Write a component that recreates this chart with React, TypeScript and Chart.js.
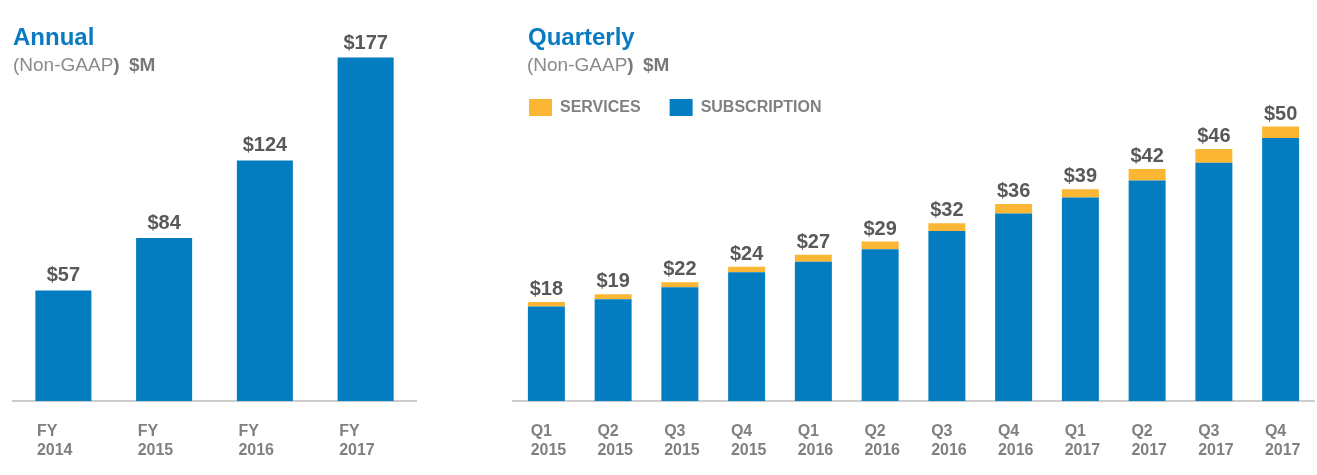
import React, { useEffect, useRef } from "react";
import { Chart, registerables } from "chart.js";

Chart.register(...registerables);

const FONT = '"Liberation Sans", Arial, Helvetica, sans-serif';
Chart.defaults.font.family = FONT;

// ---- Annual data ----
const annualCategories = [
  ["FY", "2014"],
  ["FY", "2015"],
  ["FY", "2016"],
  ["FY", "2017"],
];
const annualValues = [57, 84, 124, 177];
const annualLabels = ["$57", "$84", "$124", "$177"];

// ---- Quarterly data ----
const quarterCategories = [
  ["Q1", "2015"],
  ["Q2", "2015"],
  ["Q3", "2015"],
  ["Q4", "2015"],
  ["Q1", "2016"],
  ["Q2", "2016"],
  ["Q3", "2016"],
  ["Q4", "2016"],
  ["Q1", "2017"],
  ["Q2", "2017"],
  ["Q3", "2017"],
  ["Q4", "2017"],
];
const subscriptionValues = [17.2, 18.5, 20.7, 23.4, 25.3, 27.6, 30.9, 34.1, 37.0, 40.1, 43.3, 47.8];
const servicesValues = [0.8, 0.9, 0.9, 1.0, 1.3, 1.4, 1.4, 1.7, 1.5, 2.1, 2.5, 2.1];
const quarterTotalLabels = ["$18", "$19", "$22", "$24", "$27", "$29", "$32", "$36", "$39", "$42", "$46", "$50"];

const BLUE = "#037cc0";
const YELLOW = "#fbb733";
const TICK_GRAY = "#808080";
const LABEL_GRAY = "#58595b";
const AXIS_GRAY = "#cccccc";

const topLabelsPlugin = {
  id: "topLabels",
  afterDatasetsDraw(chart: any, _args: any, opts: any) {
    const labels: string[] = opts && opts.labels;
    if (!labels) return;
    const ctx = chart.ctx;
    const meta = chart.getDatasetMeta(chart.data.datasets.length - 1);
    ctx.save();
    ctx.font = `bold ${opts.size || 20}px ${FONT}`;
    ctx.fillStyle = LABEL_GRAY;
    ctx.textAlign = "center";
    ctx.textBaseline = "alphabetic";
    meta.data.forEach((el: any, i: number) => {
      ctx.fillText(labels[i], el.x, el.y - (opts.gap || 7));
    });
    ctx.restore();
  },
};

function xAxis(labelOffset: number) {
  return {
    grid: { display: false, drawTicks: false },
    border: { display: true, color: AXIS_GRAY, width: 2 },
    afterFit: (s: any) => {
      s.height = 57;
      s.paddingLeft = 0;
      s.paddingRight = 0;
    },
    ticks: {
      autoSkip: false,
      maxRotation: 0,
      minRotation: 0,
      align: "start",
      labelOffset,
      padding: 21.5,
      color: TICK_GRAY,
      font: { size: 16, weight: "bold", lineHeight: 1.15 },
    },
  };
}

function annualConfig(): any {
  return {
    type: "bar",
    data: {
      labels: annualCategories,
      datasets: [
        {
          label: "Annual",
          data: annualValues,
          backgroundColor: BLUE,
          borderWidth: 0,
          categoryPercentage: 1,
          barPercentage: 0.556,
        },
      ],
    },
    plugins: [topLabelsPlugin],
    options: {
      responsive: true,
      maintainAspectRatio: false,
      animation: false,
      layout: { padding: { left: 13, right: 14, top: 13, bottom: 17 } },
      plugins: {
        legend: { display: false },
        tooltip: { enabled: false },
        topLabels: { labels: annualLabels, size: 20, gap: 9 },
      },
      scales: {
        x: xAxis(-26.5),
        y: { display: false, min: 0, max: 200 },
      },
    },
  };
}

function quarterlyConfig(): any {
  return {
    type: "bar",
    data: {
      labels: quarterCategories,
      datasets: [
        {
          label: "SUBSCRIPTION",
          data: subscriptionValues,
          backgroundColor: BLUE,
          borderWidth: 0,
          categoryPercentage: 1,
          barPercentage: 0.554,
          clip: false,
        },
        {
          label: "SERVICES",
          data: servicesValues,
          backgroundColor: YELLOW,
          borderWidth: 0,
          categoryPercentage: 1,
          barPercentage: 0.554,
          clip: false,
        },
      ],
    },
    plugins: [topLabelsPlugin],
    options: {
      responsive: true,
      maintainAspectRatio: false,
      animation: false,
      layout: { padding: { left: 0, right: 3, top: 70, bottom: 17 } },
      plugins: {
        legend: {
          display: true,
          position: "top",
          align: "start",
          reverse: true,
          labels: {
            boxWidth: 23,
            boxHeight: 17,
            padding: 29,
            color: TICK_GRAY,
            font: { size: 16, weight: "bold" },
          },
        },
        tooltip: { enabled: false },
        topLabels: { labels: quarterTotalLabels, size: 20, gap: 7 },
      },
      scales: {
        x: { ...xAxis(-15.7), stacked: true },
        y: {
          display: true,
          stacked: true,
          min: 0,
          max: 50,
          grid: { display: false, drawTicks: false },
          border: { display: false },
          ticks: { display: false },
          afterFit: (s: any) => {
            s.width = 13;
          },
        },
      },
    },
  };
}

function ChartBox({ makeConfig, style }: { makeConfig: () => any; style: React.CSSProperties }) {
  const ref = useRef<HTMLCanvasElement>(null);
  useEffect(() => {
    const chart = new Chart(ref.current as HTMLCanvasElement, makeConfig());
    return () => chart.destroy();
  }, []);
  return (
    <div style={{ position: "absolute", ...style }}>
      <canvas ref={ref} />
    </div>
  );
}

const titleStyle: React.CSSProperties = {
  position: "absolute",
  top: 25,
  fontFamily: FONT,
  fontWeight: "bold",
  fontSize: 24,
  lineHeight: "24px",
  color: "#0a7bc1",
  whiteSpace: "nowrap",
};

const subStyle: React.CSSProperties = {
  position: "absolute",
  top: 55,
  fontFamily: FONT,
  fontSize: 19,
  lineHeight: "19px",
  color: "#8a8a8a",
  whiteSpace: "nowrap",
};

function Subtitle({ left }: { left: number }) {
  return (
    <div style={{ ...subStyle, left }}>
      (Non-GAAP<span style={{ fontWeight: "bold", color: "#787878" }}>)</span>
      <span style={{ fontWeight: "bold", color: "#787878", marginLeft: 4 }}> $M</span>
    </div>
  );
}

export default function App() {
  return (
    <div
      style={{
        position: "absolute",
        left: 0,
        top: 0,
        width: 1317,
        height: 475,
        background: "#ffffff",
        overflow: "hidden",
      }}
    >
      <ChartBox makeConfig={annualConfig} style={{ left: 0, top: 0, width: 430, height: 475 }} />
      <ChartBox makeConfig={quarterlyConfig} style={{ left: 500, top: 0, width: 817, height: 475 }} />
      <div style={{ ...titleStyle, left: 13 }}>Annual</div>
      <Subtitle left={13} />
      <div style={{ ...titleStyle, left: 528 }}>Quarterly</div>
      <Subtitle left={527} />
    </div>
  );
}
